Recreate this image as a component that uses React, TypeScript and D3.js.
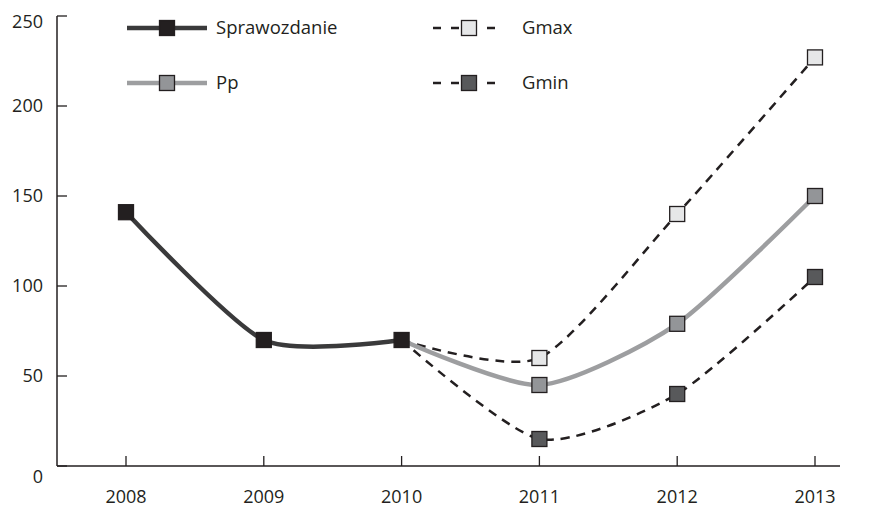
import { useRef, useEffect } from "react";
import * as d3 from "d3";

const years = ["2008", "2009", "2010", "2011", "2012", "2013"];
const yTicks = [0, 50, 100, 150, 200, 250];

const sprawozdanie = [141, 70, 70, null, null, null];
const pp = [null, null, 70, 45, 79, 150];
const gmax = [null, null, 70, 60, 140, 227];
const gmin = [null, null, 70, 15, 40, 105];

const WIDTH = 869;
const HEIGHT = 507;
const FONT = "'Open Sans', sans-serif";

interface Series {
  name: string;
  values: (number | null)[];
  stroke: string;
  strokeWidth: number;
  dash: string | null;
  marker: string;
  markerFrom: number;
}

const series: Series[] = [
  { name: "Gmax", values: gmax, stroke: "#231f20", strokeWidth: 2.5, dash: "9,7", marker: "#e6e7e8", markerFrom: 3 },
  { name: "Gmin", values: gmin, stroke: "#231f20", strokeWidth: 2.5, dash: "9,7", marker: "#58595b", markerFrom: 3 },
  { name: "Pp", values: pp, stroke: "#9d9ea0", strokeWidth: 4.5, dash: null, marker: "#939598", markerFrom: 3 },
  { name: "Sprawozdanie", values: sprawozdanie, stroke: "#3a3a3b", strokeWidth: 4.5, dash: null, marker: "#231f20", markerFrom: 0 },
];

export default function App() {
  const svgRef = useRef<SVGSVGElement>(null);

  useEffect(() => {
    if (!svgRef.current) return;
    const svg = d3.select(svgRef.current);
    svg.selectAll("*").remove();

    const left = 57;
    const top = 16;
    const bottom = 466;
    const axisRight = 840;

    const x = d3.scalePoint<string>().domain(years).range([126, 815]);
    const y = d3.scaleLinear().domain([0, 250]).range([bottom, top]);

    const g = svg.append("g");

    // Axis lines
    g.append("line")
      .attr("x1", left).attr("x2", left)
      .attr("y1", top).attr("y2", bottom)
      .attr("stroke", "#231f20").attr("stroke-width", 1.5);
    g.append("line")
      .attr("x1", left).attr("x2", axisRight)
      .attr("y1", bottom).attr("y2", bottom)
      .attr("stroke", "#231f20").attr("stroke-width", 1.5);

    // Y ticks + labels
    g.selectAll(".ytick")
      .data(yTicks)
      .join("line")
      .attr("x1", left).attr("x2", left + 10)
      .attr("y1", (d) => y(d)).attr("y2", (d) => y(d))
      .attr("stroke", "#231f20").attr("stroke-width", 1.3);
    g.selectAll(".ylab")
      .data(yTicks)
      .join("text")
      .attr("x", 43)
      .attr("y", (d) => y(d) + (d === 0 ? 12 : d === 250 ? 7 : 1))
      .attr("text-anchor", "end")
      .attr("dominant-baseline", "middle")
      .style("font-family", FONT)
      .style("font-size", "18px")
      .attr("fill", "#231f20")
      .text((d) => d);

    // X ticks + labels
    g.selectAll(".xtick")
      .data(years)
      .join("line")
      .attr("x1", (d) => x(d) ?? 0).attr("x2", (d) => x(d) ?? 0)
      .attr("y1", bottom).attr("y2", bottom - 10)
      .attr("stroke", "#231f20").attr("stroke-width", 1.3);
    g.selectAll(".xlab")
      .data(years)
      .join("text")
      .attr("x", (d) => x(d) ?? 0)
      .attr("y", 503)
      .attr("text-anchor", "middle")
      .style("font-family", FONT)
      .style("font-size", "18px")
      .attr("fill", "#231f20")
      .text((d) => d);

    const line = d3
      .line<number | null>()
      .defined((d) => d !== null)
      .x((_, i) => x(years[i]) ?? 0)
      .y((d) => y(d as number))
      .curve(d3.curveCardinal.tension(0.3));

    const ms = 15;
    series.forEach((s) => {
      g.append("path")
        .datum(s.values)
        .attr("d", line)
        .attr("fill", "none")
        .attr("stroke", s.stroke)
        .attr("stroke-width", s.strokeWidth)
        .attr("stroke-dasharray", s.dash);
    });
    series.forEach((s) => {
      const pts = s.values
        .map((v, i) => ({ v, i }))
        .filter((p) => p.v !== null && p.i >= s.markerFrom);
      g.selectAll(`.m-${s.name}`)
        .data(pts)
        .join("rect")
        .attr("x", (p) => (x(years[p.i]) ?? 0) - ms / 2)
        .attr("y", (p) => y(p.v as number) - ms / 2)
        .attr("width", ms)
        .attr("height", ms)
        .attr("fill", s.marker)
        .attr("stroke", "#231f20")
        .attr("stroke-width", 1.3);
    });

    // Legend
    const legend = [
      { s: series[3], x0: 127, y0: 28 },
      { s: series[2], x0: 127, y0: 83 },
      { s: series[0], x0: 433, y0: 28 },
      { s: series[1], x0: 433, y0: 83 },
    ];
    legend.forEach(({ s, x0, y0 }) => {
      const lg = g.append("g");
      const dashed = s.dash !== null;
      const len = dashed ? 72 : 80;
      lg.append("line")
        .attr("x1", x0).attr("x2", x0 + len)
        .attr("y1", y0).attr("y2", y0)
        .attr("stroke", s.stroke)
        .attr("stroke-width", s.strokeWidth)
        .attr("stroke-dasharray", dashed ? "8,10" : null);
      lg.append("rect")
        .attr("x", x0 + len / 2 - ms / 2)
        .attr("y", y0 - ms / 2)
        .attr("width", ms).attr("height", ms)
        .attr("fill", s.marker)
        .attr("stroke", "#231f20")
        .attr("stroke-width", 1.3);
      lg.append("text")
        .attr("x", x0 + len + (dashed ? 17 : 9))
        .attr("y", y0 + 1)
        .attr("dominant-baseline", "middle")
        .style("font-family", FONT)
        .style("font-size", "18.5px")
        .attr("fill", "#231f20")
        .text(s.name);
    });
  }, []);

  return (
    <svg
      ref={svgRef}
      width={WIDTH}
      height={HEIGHT}
      style={{ position: "absolute", left: 0, top: 0, background: "#fff" }}
    />
  );
}
